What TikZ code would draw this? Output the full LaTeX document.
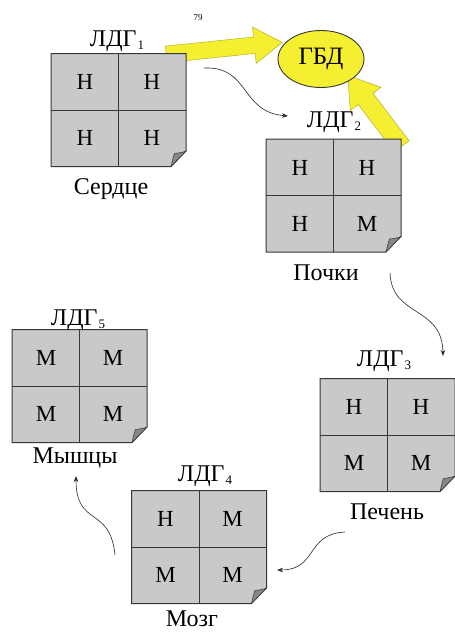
\documentclass[tikz,border=0pt]{standalone}
\usepackage{fontspec}
\setmainfont{Liberation Serif}
\usetikzlibrary{shapes.arrows,shapes.geometric,calc,arrows.meta}

\definecolor{sheetgray}{RGB}{201,201,201}
\definecolor{foldgray}{RGB}{135,135,135}
\definecolor{edgegray}{RGB}{55,55,55}
\definecolor{hlyellow}{RGB}{244,239,48}
\definecolor{hledge}{RGB}{185,175,45}

\newcommand\ldgname[1]{ЛДГ\hspace{1pt}\raisebox{-3pt}{\fontsize{13}{13}\selectfont #1}}

\tikzset{
  cell/.style={font=\fontsize{23}{23}\selectfont, anchor=base, inner sep=0pt},
  caption/.style={font=\fontsize{24}{24}\selectfont, anchor=base, inner sep=0pt},
  flow/.style={-{Stealth[length=6pt,width=4.5pt]}, line width=0.6pt, black!85},
  bigarrow/.style={single arrow, fill=hlyellow, draw=hledge, line width=0.5pt,
    inner xsep=0pt, single arrow tip angle=66},
  hubnode/.style={ellipse, draw=edgegray, line width=0.9pt, fill=hlyellow,
    minimum width=86pt, minimum height=57pt, inner sep=0pt,
    font=\fontsize{25}{25}\selectfont},
  pics/sheet/.style n args={4}{code={
    \path[fill=sheetgray, draw=edgegray, line width=1pt]
      (-67.5,-56.5) -- (67.5,-56.5) -- (67.5,41) -- (52.5,56.5) -- (-67.5,56.5) -- cycle;
    \path[fill=foldgray, draw=edgegray, line width=0.5pt]
      (67.5,41) -- (52.5,56.5) .. controls (54,50) and (55,46) .. (56,43.5)
      .. controls (60,43) and (64,42.5) .. cycle;
    \draw[edgegray, line width=0.8pt] (0,-56.5) -- (0,56.5) (-67.5,0) -- (67.5,0);
    \coordinate (-ne) at (67.5,-56.5);
    \node[cell] (-a) at (-33.5,-20.5) {#1};
    \node[cell] (-b) at (33.5,-20.5) {#2};
    \node[cell] (-c) at (-33.5,35.5) {#3};
    \node[cell] (-d) at (33.5,35.5) {#4};
  }}
}

\begin{document}
\begin{tikzpicture}[x=1pt, y=-1pt]
  \useasboundingbox (0,0) rectangle (455,633);

  % end points of the two broad arrows into the hub
  \coordinate (t1) at (160,55);
  \coordinate (h1) at (276,43);
  \coordinate (t2) at (406,152);
  \coordinate (h2) at (352,81);

  \path let \p1 = ($(h1)-(t1)$), \n1 = {atan2(\y1,\x1)}, \n2 = {veclen(\x1,\y1)} in
    node[bigarrow, inner ysep=8pt, single arrow head extend=10pt,
         minimum height=\n2, rotate=\n1] (ya1) at ($(t1)!0.5!(h1)$) {};
  \path let \p1 = ($(h2)-(t2)$), \n1 = {atan2(\y1,\x1)}, \n2 = {veclen(\x1,\y1)} in
    node[bigarrow, inner ysep=9pt, single arrow head extend=10pt,
         minimum height=\n2, rotate=\n1] (ya2) at ($(t2)!0.5!(h2)$) {};

  \node[hubnode] (gbd) at (321,59) {ГБД};

  \node[font=\fontsize{9}{9}\selectfont, anchor=base, inner sep=0pt] (page) at (198,20) {79};

  % the five tissue sheets
  \pic (l1) at (118.5,110) {sheet={Н}{Н}{Н}{Н}};
  \pic (l2) at (333.5,195.5) {sheet={Н}{Н}{Н}{М}};
  \pic (l3) at (387.5,435) {sheet={Н}{Н}{М}{М}};
  \pic (l4) at (199,547) {sheet={Н}{М}{М}{М}};
  \pic (l5) at (79.5,386) {sheet={М}{М}{М}{М}};

  \node[caption] (n1) at (117,46) {\ldgname{1}};
  \node[caption] (n2) at (334,127) {\ldgname{2}};
  \node[caption] (n3) at (384,366) {\ldgname{3}};
  \node[caption] (n4) at (205,481) {\ldgname{4}};
  \node[caption] (n5) at (78,325) {\ldgname{5}};

  \node[caption] (c1) at (111,194) {Сердце};
  \node[caption] (c2) at (326,280) {Почки};
  \node[caption] (c3) at (387,519) {Печень};
  \node[caption] (c4) at (192,626) {Мозг};
  \node[caption] (c5) at (75,463) {Мышцы};

  % thin transfer arrows between tissues
  \coordinate (s1) at (204,68);  \coordinate (e1) at (288,116);
  \coordinate (s2) at (390,273); \coordinate (e2) at (443,356);
  \coordinate (s3) at (345,532); \coordinate (e3) at (277,570);
  \coordinate (s4) at (115,555); \coordinate (e4) at (76,476);

  \draw[flow] (s1) .. controls (250,66) and (240,112) .. (e1);
  \draw[flow] (s2) .. controls (392,318) and (442,305) .. (e2);
  \draw[flow] (s3) .. controls (305,534) and (318,570) .. (e3);
  \draw[flow] (s4) .. controls (110,505) and (76,528) .. (e4);
\end{tikzpicture}
\end{document}
